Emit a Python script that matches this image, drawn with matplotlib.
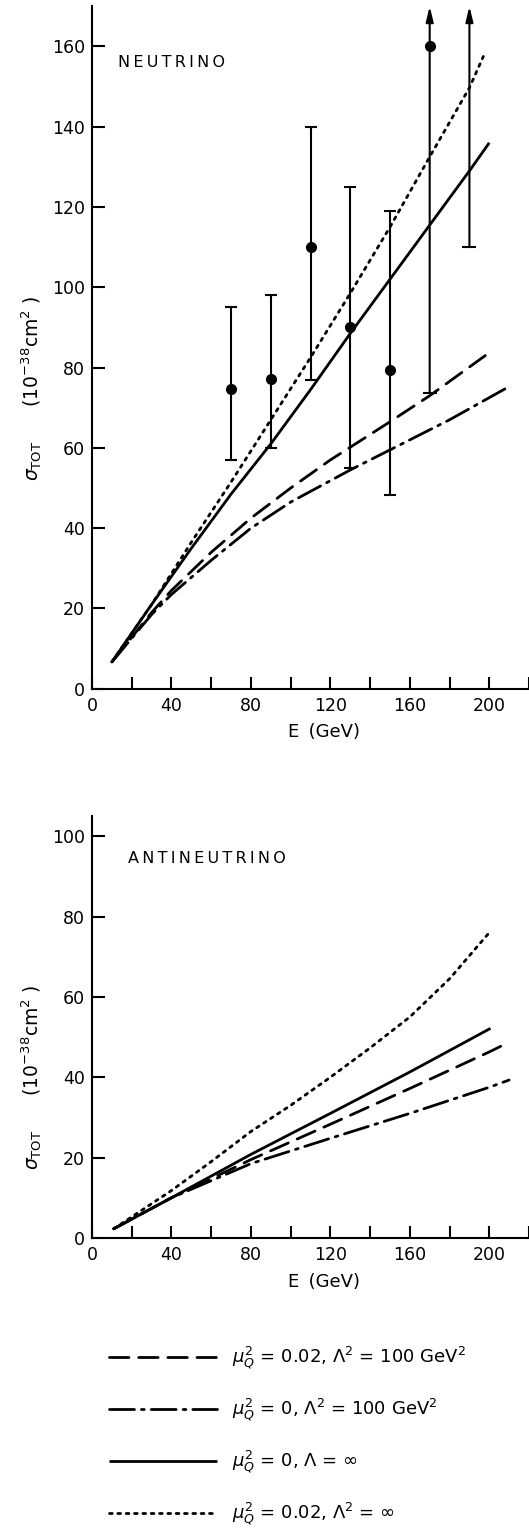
import matplotlib
matplotlib.use("Agg")
import matplotlib.pyplot as plt

plt.rcParams['font.family'] = ['DejaVu Sans']
plt.rcParams['mathtext.fontset'] = 'dejavusans'

# neutrino data points (GeV, 10^-38 cm^2)
nu_E = [70, 90, 110, 130, 150]
nu_sigma = [74.7, 77.2, 110, 90, 79.5]
nu_low = [57, 60, 77, 55, 48.3]
nu_high = [95, 98, 140, 125, 119]

# points whose error bar runs off the top (arrow)
lim_E = [170, 190]
lim_low = [73.7, 110]
lim_point_E = [170]
lim_point_sigma = [160]

# neutrino curves
nu_dash_E = [10, 30, 40, 60, 80, 100, 120, 150, 170, 198]
nu_dash = [6.7, 19, 24.5, 34, 42.5, 50, 57, 66.5, 73, 83]
nu_dashdot_E = [10, 30, 40, 60, 80, 100, 130, 150, 180, 209]
nu_dashdot = [6.7, 18.5, 23.5, 32, 40, 46.5, 54.5, 59.5, 67, 75]
nu_solid_E = [10, 30, 50, 70, 90, 110, 130, 150, 170, 190, 200]
nu_solid = [6.7, 21, 35, 48.5, 61, 74.5, 88.5, 102, 115.5, 129, 136]
nu_dot_E = [10, 30, 50, 70, 90, 110, 130, 150, 170, 190, 197]
nu_dot = [6.7, 21, 36.5, 51.5, 67, 82.5, 98.5, 115, 132.5, 149.7, 157.5]

# antineutrino curves
anu_dash_E = [11, 40, 80, 120, 160, 200, 207]
anu_dash = [2.3, 10, 19.5, 28.3, 37.2, 46.3, 48]
anu_dashdot_E = [11, 40, 80, 120, 160, 200, 210]
anu_dashdot = [2.3, 10, 18.5, 24.8, 31, 37.5, 39.3]
anu_solid_E = [11, 40, 80, 120, 160, 200]
anu_solid = [2.3, 10, 20.8, 31, 41.3, 52]
anu_dot_E = [11, 40, 60, 80, 100, 120, 140, 160, 180, 200]
anu_dot = [2.3, 11.8, 19, 26.5, 33, 40, 47.3, 55, 64.5, 76]

labels = [r'$\mu_Q^2$ = 0.02, $\Lambda^2$ = 100 GeV$^2$',
          r'$\mu_Q^2$ = 0, $\Lambda^2$ = 100 GeV$^2$',
          r'$\mu_Q^2$ = 0, $\Lambda$ = $\infty$',
          r'$\mu_Q^2$ = 0.02, $\Lambda^2$ = $\infty$']

styles = [(0, (7, 3.5)), (0, (9, 2.5, 1, 2.5)), '-', (0, (1, 2))]

fig = plt.figure(figsize=(5.29, 15.34), dpi=100)
ax1 = fig.add_axes([0.174, 0.551, 0.826, 0.4449])
ax2 = fig.add_axes([0.174, 0.193, 0.826, 0.275])


def style_axes(ax, ymax, yticks, label_y):
    ax.set_xlim(0, 220)
    ax.set_ylim(0, ymax)
    for s in ['top', 'right']:
        ax.spines[s].set_visible(False)
    for s in ['left', 'bottom']:
        ax.spines[s].set_linewidth(1.5)
    ax.set_xticks(range(0, 221, 20))
    ax.set_xticklabels([str(v) if v % 40 == 0 else '' for v in range(0, 221, 20)])
    ax.set_yticks(yticks)
    ax.tick_params(direction='in', length=9, width=1.5, labelsize=12.5)
    ax.tick_params(axis='x', pad=6)
    ax.tick_params(axis='y', pad=5)
    ax.set_xlabel('E\u2009 (GeV)', fontsize=13, labelpad=6, x=0.53)
    ax.set_ylabel(r'$\sigma_{\mathrm{TOT}}$      (10$^{-38}$cm$^2$ )',
                  fontsize=13.5, labelpad=6, y=label_y)


curves_nu = [(nu_dash_E, nu_dash), (nu_dashdot_E, nu_dashdot),
             (nu_solid_E, nu_solid), (nu_dot_E, nu_dot)]
curves_anu = [(anu_dash_E, anu_dash), (anu_dashdot_E, anu_dashdot),
              (anu_solid_E, anu_solid), (anu_dot_E, anu_dot)]

handles = []
for (x, y), ls, lab in zip(curves_nu, styles, labels):
    h, = ax1.plot(x, y, color='black', lw=2, ls=ls, label=lab,
                  solid_capstyle='butt', dash_capstyle='round')
    handles.append(h)
for (x, y), ls in zip(curves_anu, styles):
    ax2.plot(x, y, color='black', lw=2, ls=ls, dash_capstyle='round')

# data points with error bars
yerr = [[s - l for s, l in zip(nu_sigma, nu_low)],
        [h - s for s, h in zip(nu_sigma, nu_high)]]
ax1.errorbar(nu_E, nu_sigma, yerr=yerr, fmt='o', color='black', ms=7,
             elinewidth=1.5, capsize=4.5, capthick=1.5)
ax1.plot(lim_point_E, lim_point_sigma, 'o', color='black', ms=7)
for x, lo in zip(lim_E, lim_low):
    ax1.annotate('', xy=(x, 170), xytext=(x, lo), annotation_clip=False,
                 arrowprops=dict(arrowstyle='-|>,head_length=0.9,head_width=0.22',
                                 lw=1.5, color='black', shrinkA=0, shrinkB=0))
ax1.plot(lim_E, lim_low, '_', color='black', ms=10, mew=1.5)

style_axes(ax1, 170, range(0, 161, 20), 0.44)
style_axes(ax2, 105, range(0, 101, 20), 0.38)

ax1.text(13, 156, '\u2009'.join('NEUTRINO'), fontsize=11.5, va='center')
ax2.text(18, 94.5, '\u2009'.join('ANTINEUTRINO'), fontsize=11.5, va='center')

fig.legend(handles=handles, loc='upper left', bbox_to_anchor=(0.175, 0.134),
           frameon=False, fontsize=13, handlelength=6, handletextpad=0.8,
           labelspacing=1.4)

fig.savefig('out.png', dpi=100)
